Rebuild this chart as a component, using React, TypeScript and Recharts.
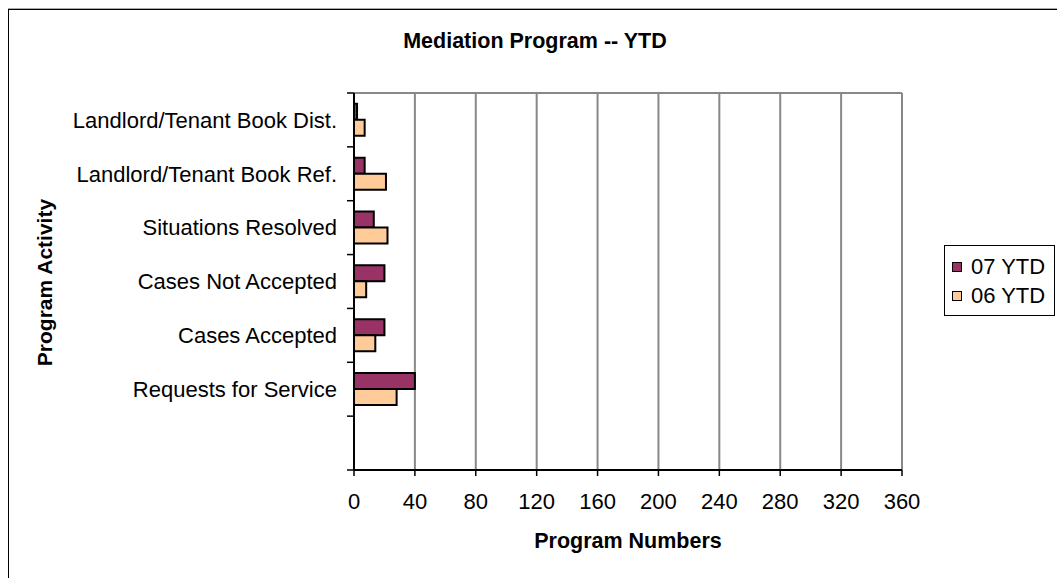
import React from 'react';
import { BarChart, Bar, XAxis, YAxis, CartesianGrid } from 'recharts';

// categories top to bottom, last one is the empty slot Excel left at the bottom
const activities = [
  'Landlord/Tenant Book Dist.',
  'Landlord/Tenant Book Ref.',
  'Situations Resolved',
  'Cases Not Accepted',
  'Cases Accepted',
  'Requests for Service',
  '',
];
const ytd07 = [2, 7, 13, 20, 20, 40, null];
const ytd06 = [7, 21, 22, 8, 14, 28, null];
const xTicks = [0, 40, 80, 120, 160, 200, 240, 280, 320, 360];

const seriesInfo = [
  { key: 'y07', name: '07 YTD', color: '#993366' },
  { key: 'y06', name: '06 YTD', color: '#FFCC99' },
];

const data = activities.map((name, i) => ({ name, y07: ytd07[i], y06: ytd06[i] }));

const FONT = '"Liberation Sans", Arial, sans-serif';
const CAT_MARGIN = 17;

// category label plus Excel-style tick marks on the band edges
function CategoryTick(props: any) {
  const { x, y, payload, index } = props;
  const half = payload && payload.offset ? payload.offset : 0;
  const axisX = x + CAT_MARGIN;
  const last = index === activities.length - 1;
  return (
    <g>
      <line x1={axisX - 7} x2={axisX} y1={y - half} y2={y - half} stroke="#000" strokeWidth={1.5} />
      {last && (
        <line x1={axisX - 7} x2={axisX} y1={y + half} y2={y + half} stroke="#000" strokeWidth={1.5} />
      )}
      <text x={x} y={y} dy="0.355em" textAnchor="end" fill="#000" fontSize={22} fontFamily={FONT}>
        {payload.value}
      </text>
    </g>
  );
}

function LegendBox() {
  return (
    <div
      style={{
        position: 'absolute',
        left: 936,
        top: 237,
        border: '1px solid #000',
        background: '#fff',
        width: 111,
        height: 71,
        boxSizing: 'border-box',
        paddingTop: 6,
        paddingLeft: 7,
        fontSize: 22,
        color: '#000',
      }}
    >
      {seriesInfo.map((s) => (
        <div key={s.key} style={{ display: 'flex', alignItems: 'center', height: 29 }}>
          <span
            style={{
              display: 'inline-block',
              width: 8,
              height: 8,
              background: s.color,
              border: '1px solid #000',
              marginRight: 9,
            }}
          />
          <span>{s.name}</span>
        </div>
      ))}
    </div>
  );
}

export default function App() {
  return (
    <>
      <style>{'html,body{margin:0;overflow:hidden}'}</style>
      <div
        style={{
          position: 'absolute',
          left: 8,
          top: 8,
          width: 1049,
          height: 570,
          fontFamily: FONT,
          overflow: 'hidden',
        }}
      >
        {/* chart frame, only top/left edges are in view */}
        <div
          style={{
            position: 'absolute',
            left: 0,
            top: 0,
            width: 1049,
            height: 570,
            borderTop: '1px solid #aaa',
            boxSizing: 'border-box',
          }}
        />
        <div
          style={{
            position: 'absolute',
            left: 0,
            top: 1,
            width: 1049,
            height: 569,
            borderTop: '1px solid #000',
            borderLeft: '1px solid #000',
            boxSizing: 'border-box',
          }}
        />
        <div
          style={{
            position: 'absolute',
            left: 5,
            top: 21,
            width: 1044,
            textAlign: 'center',
            fontSize: 21.5,
            lineHeight: '24px',
            fontWeight: 'bold',
            color: '#000',
          }}
        >
          Mediation Program -- YTD
        </div>
        <div style={{ position: 'absolute', left: 0, top: 0 }}>
          <BarChart
            width={1049}
            height={562}
            data={data}
            layout="vertical"
            margin={{ top: 84, right: 155, bottom: 0, left: 0 }}
            barCategoryGap="20%"
            barGap={0}
          >
            <CartesianGrid horizontal={false} stroke="#888" strokeWidth={2} />
            {/* top edge of the plot area */}
            <XAxis
              xAxisId="top"
              orientation="top"
              type="number"
              domain={[0, 360]}
              ticks={xTicks}
              height={1}
              tick={false}
              tickLine={false}
              axisLine={{ stroke: '#888', strokeWidth: 2 }}
            />
            <XAxis
              type="number"
              domain={[0, 360]}
              ticks={xTicks}
              interval={0}
              height={100}
              axisLine={{ stroke: '#000', strokeWidth: 2 }}
              tickLine={{ stroke: '#000', strokeWidth: 1.5 }}
              tickSize={6}
              tickMargin={17}
              tick={{ fill: '#000', fontSize: 22, fontFamily: FONT }}
              label={{
                value: 'Program Numbers',
                position: 'insideBottom',
                offset: 22,
                fill: '#000',
                fontSize: 21.5,
                fontWeight: 'bold',
                fontFamily: FONT,
              }}
            />
            <YAxis
              type="category"
              dataKey="name"
              width={346}
              interval={0}
              axisLine={{ stroke: '#000', strokeWidth: 2 }}
              tickLine={false}
              tickSize={0}
              tickMargin={CAT_MARGIN}
              tick={<CategoryTick />}
              label={{
                content: (props: any) => {
                  const vb = props.viewBox || { x: 0, y: 85, width: 346, height: 377 };
                  const cx = vb.x + 44;
                  const cy = vb.y + vb.height / 2 + 1;
                  return (
                    <text
                      x={cx}
                      y={cy}
                      transform={`rotate(-90, ${cx}, ${cy})`}
                      textAnchor="middle"
                      fill="#000"
                      fontSize={21}
                      fontWeight="bold"
                      fontFamily={FONT}
                    >
                      Program Activity
                    </text>
                  );
                },
              }}
            />
            {seriesInfo.map((s) => (
              <Bar
                key={s.key}
                dataKey={s.key}
                name={s.name}
                fill={s.color}
                stroke="#000"
                strokeWidth={2}
                isAnimationActive={false}
              />
            ))}
          </BarChart>
        </div>
        <LegendBox />
      </div>
    </>
  );
}
